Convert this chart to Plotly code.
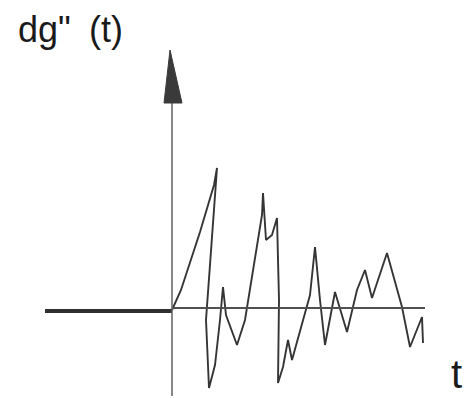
import plotly.graph_objects as go

# Signal (t in arbitrary units, amplitude in arbitrary units)
t_vals = [0.0, 0.9, 2.8, 4.2, 4.5, 4.3, 3.6, 3.4, 3.7, 4.3, 4.8, 5.1, 5.4, 6.5, 7.3,
          8.3, 9.0, 9.1, 9.4, 10.0, 10.5, 10.7, 10.6, 11.1, 11.6, 12.0, 12.8, 13.8,
          14.3, 14.8, 15.3, 16.3, 17.5, 18.5, 19.3, 20.0, 21.5, 23.0, 23.8, 25.0, 25.1]
g_vals = [0.0, 2.0, 7.8, 12.5, 14.2, 11.5, 2.5, -1.0, -7.8, -5.5, -1.0, 2.3, -0.5, -3.5, -1.0,
          5.0, 9.5, 11.7, 7.0, 7.5, 9.2, 1.0, -7.3, -5.7, -3.0, -5.0, -2.0, 1.5,
          6.3, 1.0, -3.5, 1.8, -2.2, 2.0, 4.0, 1.2, 5.7, 0.3, -3.7, -0.7, -3.3]

y_label_parts = ['dg"', "(t)"]
x_label = "t"

W, H = 464, 398
x_range = [-17.2, 29.2]
y_range = [-8.8, 31.0]

fig = go.Figure()
fig.add_trace(go.Scatter(x=t_vals, y=g_vals, mode="lines",
                         line=dict(color="#353535", width=1.9),
                         hoverinfo="skip", showlegend=False))

shapes = [
    # thick left part of horizontal axis
    dict(type="line", x0=-12.7, x1=0, y0=-0.1, y1=-0.1,
         line=dict(color="#303030", width=4)),
    # thinner right part of horizontal axis
    dict(type="line", x0=0, x1=25.3, y0=0.2, y1=0.2,
         line=dict(color="#505050", width=2)),
    # vertical axis
    dict(type="line", x0=0, x1=0, y0=-8.6, y1=21.0,
         line=dict(color="#606060", width=1.5)),
    # arrow head
    dict(type="path", path="M -0.2 26.0 L -0.8 20.7 L 1.0 20.7 Z",
         fillcolor="#3a3a3a", line=dict(color="#3a3a3a", width=1)),
]

font = dict(family="Liberation Sans, Arial", size=36, color="#1a1a1a")
fig.update_layout(
    width=W, height=H,
    margin=dict(l=0, r=0, t=0, b=0),
    paper_bgcolor="white", plot_bgcolor="white",
    xaxis=dict(range=x_range, visible=False, fixedrange=True),
    yaxis=dict(range=y_range, visible=False, fixedrange=True),
    shapes=shapes,
    annotations=[
        dict(text=y_label_parts[0], xref="paper", yref="paper", x=16 / W, y=1 - 7 / H,
             xanchor="left", yanchor="top", showarrow=False, font=font),
        dict(text=y_label_parts[1], xref="paper", yref="paper", x=87 / W, y=1 - 7 / H,
             xanchor="left", yanchor="top", showarrow=False, font=font),
        dict(text=x_label, xref="paper", yref="paper", x=464 / W, y=1 - 398 / H,
             xanchor="right", yanchor="bottom", showarrow=False,
             font=dict(family="Liberation Sans, Arial", size=40, color="#1a1a1a")),
    ],
)

fig.write_html("out.html")
